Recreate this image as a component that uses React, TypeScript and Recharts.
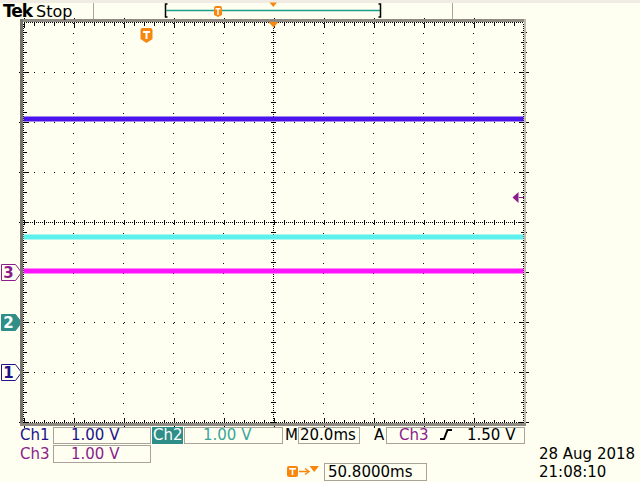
import { LineChart, Line, XAxis, YAxis, CartesianGrid, ReferenceLine } from "recharts";

// time base: 20 ms/div, 10 divisions, trigger delay puts screen centre at 50.8 ms
const timeMs = [-49.2, -29.2, -9.2, 10.8, 30.8, 50.8, 70.8, 90.8, 110.8, 130.8, 150.8];
const ch1Volts = [5.07, 5.07, 5.07, 5.07, 5.07, 5.07, 5.07, 5.07, 5.07, 5.07, 5.07];
const ch2Volts = [1.71, 1.71, 1.71, 1.71, 1.71, 1.71, 1.71, 1.71, 1.71, 1.71, 1.71];
const ch3Volts = [0.03, 0.03, 0.03, 0.03, 0.03, 0.03, 0.03, 0.03, 0.03, 0.03, 0.03];

const gridTimes = [-29.2, -9.2, 10.8, 30.8, 70.8, 90.8, 110.8, 130.8];
const gridDivs = [-3, -2, -1, 1, 2, 3];
const timeMin = -49.2;
const timeMax = 150.8;
const centerMs = 50.8;
const triggerMs = 0;

const voltsPerDiv = 1;
const ch1Pos = -3;
const ch2Pos = -2;
const ch3Pos = -1;
const triggerLevel = 1.5;

const BG = "#fefff0";
const ORANGE = "#f7870f";
const CH1 = "#4a12ec";
const CH1_TXT = "#21128c";
const CH2 = "#5cf1ec";
const CH2_TXT = "#3aa59b";
const CH2_BG = "#2f8e88";
const CH3 = "#ff14ff";
const CH3_TXT = "#8c1c8c";
const FONT = "DejaVu Sans";

const data = timeMs.map((t, i) => ({
  t,
  ch1: ch1Volts[i] / voltsPerDiv + ch1Pos,
  ch2: ch2Volts[i] / voltsPerDiv + ch2Pos,
  ch3: ch3Volts[i] / voltsPerDiv + ch3Pos,
}));

const groundMarker = (label: string, color: string, filled: boolean) => (props: any) => {
  const y = props.viewBox.y;
  return (
    <g>
      <path
        d={`M1.5,${y - 8} H15.5 L21.5,${y} L15.5,${y + 8} H1.5 Z`}
        fill={filled ? color : BG}
        stroke={color}
        strokeWidth={1}
      />
      <text x={8.5} y={y + 5.5} textAnchor="middle" fontFamily={FONT} fontWeight="bold" fontSize={15} fill={filled ? "#fff" : color}>
        {label}
      </text>
    </g>
  );
};

const triggerShield = (props: any) => {
  const x = props.viewBox.x;
  const y0 = 28;
  return (
    <g>
      <path
        d={`M${x - 6},${y0 + 2} Q${x - 6},${y0} ${x - 4},${y0} H${x + 4} Q${x + 6},${y0} ${x + 6},${y0 + 2} V${y0 + 11} L${x},${y0 + 15} L${x - 6},${y0 + 11} Z`}
        fill={ORANGE}
      />
      <rect x={x - 3.5} y={y0 + 3} width={7} height={2} fill="#fff" />
      <rect x={x - 1} y={y0 + 3} width={2} height={8} fill="#fff" />
    </g>
  );
};

const centerArrow = (props: any) => {
  const x = props.viewBox.x;
  const y = props.viewBox.y;
  return <path d={`M${x - 5.5},${y - 1} H${x + 5.5} L${x},${y + 5} Z`} fill={ORANGE} />;
};

const levelArrow = (props: any) => {
  const x = props.viewBox.x + props.viewBox.width;
  const y = props.viewBox.y;
  return (
    <g>
      <path d={`M${x - 11},${y} L${x - 5},${y - 5.5} L${x - 5},${y + 5.5} Z`} fill={CH3_TXT} />
      <line x1={x - 5} y1={y} x2={x} y2={y} stroke={CH3_TXT} strokeWidth={1} />
    </g>
  );
};

const edgeTicks = (key: string, props: any) => [
  <ReferenceLine key={key + "d"} {...props} stroke="#000" strokeWidth={1} strokeDasharray="1 1" />,
  <ReferenceLine key={key + "t"} {...props} stroke="#000" strokeWidth={6} strokeDasharray="1 9" />,
  <ReferenceLine key={key + "m"} {...props} stroke="#000" strokeWidth={10} strokeDasharray="1 49" />,
];

const Box = ({ x, y, w, h }: { x: number; y: number; w: number; h: number }) => (
  <rect x={x + 0.5} y={y + 0.5} width={w} height={h} fill="none" stroke="#a9a499" strokeWidth={1} />
);

export default function App() {
  return (
    <div style={{ position: "absolute", left: 0, top: 0, width: 640, height: 482, background: BG, overflow: "hidden" }}>
      <style>{`.scope line { shape-rendering: crispEdges; }`}</style>
      <div className="scope" style={{ position: "absolute", left: 0, top: 0 }}>
        <LineChart width={640} height={482} data={data} margin={{ top: 22.5, left: 23.5, right: 116.5, bottom: 59.5 }}>
          <XAxis dataKey="t" type="number" domain={[timeMin, timeMax]} ticks={gridTimes} interval={0} hide />
          <YAxis type="number" domain={[-4, 4]} ticks={gridDivs} interval={0} hide />
          <CartesianGrid
            stroke="#000"
            strokeDasharray="1 9"
            verticalValues={gridTimes}
            horizontalValues={gridDivs}
          />
          {edgeTicks("l", { x: timeMin })}
          {edgeTicks("r", { x: timeMax })}
          {edgeTicks("t", { y: 4 })}
          {edgeTicks("b", { y: -4 })}
          <ReferenceLine x={centerMs} stroke="#000" strokeWidth={1} strokeDasharray="1 1" />
          <ReferenceLine x={centerMs} stroke="#000" strokeWidth={5} strokeDasharray="1 9" />
          <ReferenceLine y={0} stroke="#000" strokeWidth={1} strokeDasharray="1 1" />
          <ReferenceLine y={0} stroke="#000" strokeWidth={5} strokeDasharray="1 9" />
          <Line dataKey="ch1" stroke={CH1} strokeWidth={5} dot={false} isAnimationActive={false} />
          <Line dataKey="ch2" stroke={CH2} strokeWidth={5} dot={false} isAnimationActive={false} />
          <Line dataKey="ch3" stroke={CH3} strokeWidth={5} dot={false} isAnimationActive={false} />
          <ReferenceLine y={ch3Pos} stroke="none" label={groundMarker("3", CH3_TXT, false)} />
          <ReferenceLine y={ch2Pos} stroke="none" label={groundMarker("2", CH2_BG, true)} />
          <ReferenceLine y={ch1Pos} stroke="none" label={groundMarker("1", CH1_TXT, false)} />
          <ReferenceLine x={triggerMs} stroke="none" label={triggerShield} />
          <ReferenceLine x={centerMs} stroke="none" label={centerArrow} />
          <ReferenceLine y={ch3Pos + triggerLevel / voltsPerDiv} stroke="none" label={levelArrow} />
        </LineChart>
      </div>
      <svg width={640} height={482} style={{ position: "absolute", left: 0, top: 0, pointerEvents: "none" }}>
        {/* graticule frame */}
        <rect x={20} y={19} width={506} height={3} fill="#8e8a82" />
        <rect x={20} y={19} width={3} height={407} fill="#76736c" />
        <rect x={524} y={19} width={2} height={407} fill="#c2baab" />
        <rect x={20} y={423} width={506} height={3} fill="#8e8a82" />

        {/* header */}
        <rect x={0} y={0} width={640} height={3} fill="#f1ece3" />
        <line x1={93.5} y1={3} x2={93.5} y2={19} stroke="#aaa59b" />
        <line x1={452.5} y1={3} x2={452.5} y2={19} stroke="#aaa59b" />
        <text x={3} y={17} fontFamily={FONT} fontWeight="bold" fontSize={17} fill="#000" letterSpacing={-1}>Tek</text>
        <text x={36} y={17} fontFamily={FONT} fontSize={16} fill="#000">Stop</text>
        <path d="M167.5,4 H165.5 V17 H167.5" fill="none" stroke="#000" strokeWidth={1.5} />
        <line x1={166} y1={10.5} x2={380} y2={10.5} stroke="#1aa08b" strokeWidth={1.5} />
        <path d="M378.5,4 H380.5 V17 H378.5" fill="none" stroke="#000" strokeWidth={1.5} />
        <path d="M214,8 Q214,6 216,6 H220 Q222,6 222,8 V15 L218,17 L214,15 Z" fill={ORANGE} />
        <rect x={215.5} y={8} width={5} height={1.5} fill="#fff" />
        <rect x={217.3} y={8} width={1.4} height={7} fill="#fff" />
        <path d="M269.5,2.5 H277 L273.3,7 Z" fill={ORANGE} />

        {/* readouts, row 1 */}
        <text x={20} y={440} fontFamily={FONT} fontSize={15} fill={CH1_TXT}>Ch1</text>
        <Box x={53} y={427} w={97} h={16} />
        <text x={71} y={440} fontFamily={FONT} fontSize={15} fill={CH1_TXT}>1.00 V</text>
        <rect x={152} y={427} width={31} height={17} fill={CH2_BG} />
        <text x={153} y={440} fontFamily={FONT} fontSize={15} fill="#fff">Ch2</text>
        <Box x={184} y={427} w={98} h={16} />
        <text x={203} y={440} fontFamily={FONT} fontSize={15} fill={CH2_TXT}>1.00 V</text>
        <text x={285} y={440} fontFamily={FONT} fontSize={15} fill="#000">M</text>
        <Box x={298} y={427} w={61} h={16} />
        <text x={300} y={440} fontFamily={FONT} fontSize={15} fill="#000">20.0ms</text>
        <text x={374} y={440} fontFamily={FONT} fontSize={15} fill="#000">A</text>
        <Box x={386} y={427} w={138} h={16} />
        <text x={399} y={440} fontFamily={FONT} fontSize={15} fill={CH3_TXT}>Ch3</text>
        <path d="M440,439 H444 L447.5,430 H452" fill="none" stroke="#000" strokeWidth={2} />
        <text x={467} y={440} fontFamily={FONT} fontSize={15} fill="#000">1.50 V</text>

        {/* row 2 */}
        <text x={20} y={459} fontFamily={FONT} fontSize={15} fill={CH3_TXT}>Ch3</text>
        <Box x={53} y={445} w={97} h={17} />
        <text x={71} y={459} fontFamily={FONT} fontSize={15} fill={CH3_TXT}>1.00 V</text>

        {/* row 3 */}
        <rect x={287} y={466} width={11} height={11} rx={2} fill={ORANGE} />
        <rect x={289} y={468} width={7} height={1.6} fill="#fff" />
        <rect x={291.7} y={468} width={1.6} height={7} fill="#fff" />
        <line x1={299} y1={471.5} x2={308} y2={471.5} stroke={ORANGE} strokeWidth={1.5} />
        <path d="M305,468.5 L309,471.5 L305,474.5" fill="none" stroke={ORANGE} strokeWidth={1.5} />
        <path d="M309.5,466 H319 L314.2,472 Z" fill={ORANGE} />
        <Box x={324} y={463} w={102} h={17} />
        <text x={328} y={477} fontFamily={FONT} fontSize={15} fill="#000">50.8000ms</text>
        <text x={539} y={459} fontFamily={FONT} fontSize={15} fill="#000">28 Aug 2018</text>
        <text x={539} y={477} fontFamily={FONT} fontSize={15} fill="#000">21:08:10</text>
      </svg>
    </div>
  );
}
